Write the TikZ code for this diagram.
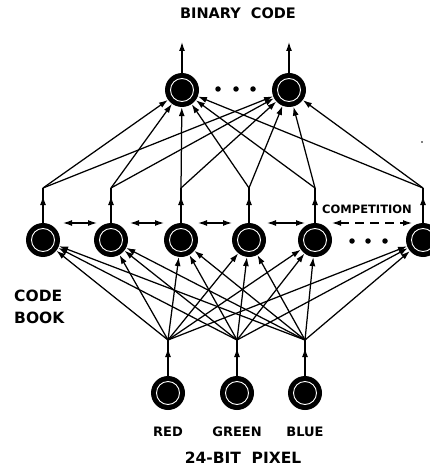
\documentclass[tikz,border=0pt]{standalone}
\usepackage{fontspec}
\setmainfont{DejaVu Sans}
\usetikzlibrary{arrows.meta}
\tikzset{
  unit/.style={circle, fill=black, minimum size=34pt, inner sep=0pt,
    path picture={\draw[white, line width=0.9pt]
      (path picture bounding box.center) circle[radius=11.5pt];}},
  wire/.style={line width=1.25pt},
  link/.style={line width=1.25pt, -{Latex[length=9pt,width=6pt]}},
  rival/.style={line width=1.25pt, {Latex[length=9pt,width=6pt]}-{Latex[length=9pt,width=6pt]}},
  dotmark/.style={circle, fill=black, minimum size=5.5pt, inner sep=0pt},
  lbl/.style={font=\bfseries\fontsize{13}{15}\selectfont, inner sep=0pt},
  biglbl/.style={font=\bfseries\fontsize{14.5}{17}\selectfont, inner sep=0pt}
}
\begin{document}
\begin{tikzpicture}[x=1pt, y=-1pt]
\useasboundingbox (0,0) rectangle (430,473);

% output layer (binary code)
\node[biglbl] (title) at (238,13) {BINARY\ \ CODE};
\node[unit] (o1) at (182,90) {};
\node[unit] (o2) at (289,90) {};
\coordinate (b1) at (182,42);
\coordinate (b2) at (289,42);
\draw[link] (o1) -- (b1);
\draw[link] (o2) -- (b2);
\node[dotmark] (od1) at (218,89) {};
\node[dotmark] (od2) at (236,89) {};
\node[dotmark] (od3) at (253,89) {};

% code book layer
\foreach \i/\x in {1/43, 2/111, 3/181, 4/249, 5/315, 6/423} {
  \node[unit] (m\i) at (\x,240) {};
  \coordinate (j\i) at (\x,188);
  \coordinate (t\i) at (\x,196);
  \draw[wire] (m\i) -- (j\i);
  \draw[link] (m\i) -- (t\i);
  \draw[link] (j\i) -- (o1);
  \draw[link] (j\i) -- (o2);
}

% lateral competition between code book units
\coordinate (c1a) at (63,223);  \coordinate (c1b) at (97,223);
\coordinate (c2a) at (130,223); \coordinate (c2b) at (164,223);
\coordinate (c3a) at (198,223); \coordinate (c3b) at (232,223);
\coordinate (c4a) at (267,223); \coordinate (c4b) at (305,223);
\coordinate (c5a) at (332,223); \coordinate (c5b) at (412,223);
\draw[rival] (c1a) -- (c1b);
\draw[rival] (c2a) -- (c2b);
\draw[rival] (c3a) -- (c3b);
\draw[rival] (c4a) -- (c4b);
\draw[rival, dash pattern=on 9pt off 6pt] (c5a) -- (c5b);
\node[lbl, font=\bfseries\fontsize{11.5}{14}\selectfont] (comp) at (367,209) {COMPETITION};
\node[dotmark] (md1) at (352,241) {};
\node[dotmark] (md2) at (368,241) {};
\node[dotmark] (md3) at (385,241) {};
\node[circle, fill=black, minimum size=1.8pt, inner sep=0pt] (speck) at (422,142) {};

\node[biglbl, font=\bfseries\fontsize{15.5}{18}\selectfont, anchor=west] (code) at (14,296) {CODE};
\node[biglbl, font=\bfseries\fontsize{15.5}{18}\selectfont, anchor=west] (book) at (14,318) {BOOK};

% input layer (24-bit pixel)
\foreach \i/\x/\name in {1/168/RED, 2/237/GREEN, 3/305/BLUE} {
  \node[unit] (p\i) at (\x,393) {};
  \coordinate (k\i) at (\x,340);
  \coordinate (s\i) at (\x,348);
  \draw[wire] (p\i) -- (k\i);
  \draw[link] (p\i) -- (s\i);
  \node[lbl] (n\i) at (\x,432) {\name};
  \foreach \j in {1,...,6} {
    \draw[link] (k\i) -- (m\j);
  }
}
\node[biglbl, font=\bfseries\fontsize{15.5}{18}\selectfont] (pix) at (243,458) {24-BIT\ \ PIXEL};
\end{tikzpicture}
\end{document}
